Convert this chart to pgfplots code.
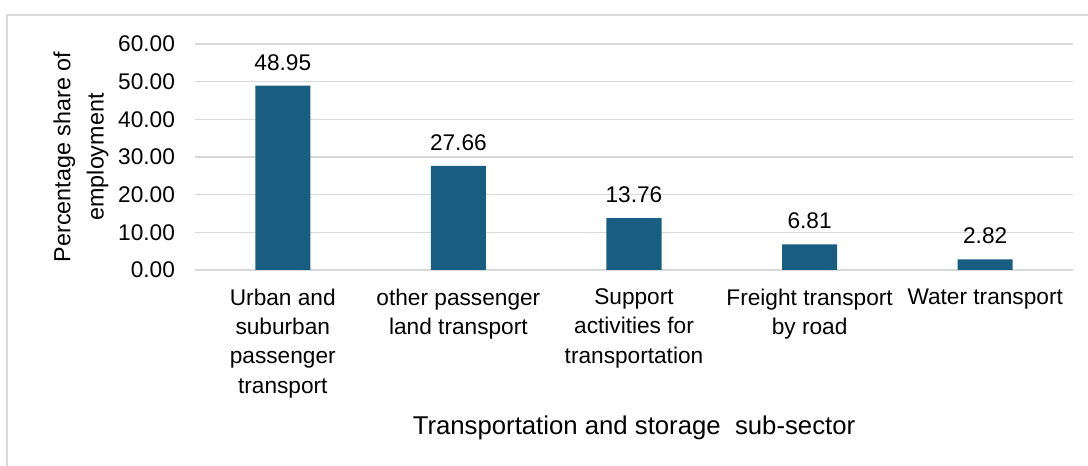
\documentclass[border=0pt]{standalone}
\usepackage{fontspec}
\setmainfont{Liberation Sans}
\usepackage{pgfplots}
\pgfplotsset{compat=1.18}

\definecolor{barblue}{RGB}{25,94,128}
\definecolor{gridgray}{RGB}{217,217,217}

\begin{document}
\begin{tikzpicture}
% picture frame: 1088x466 px at 0.75pt/px, plot area lower-left at (0,0)
\useasboundingbox (-146.25pt,-147pt) rectangle (669.75pt,202.5pt);
\draw[gridgray, line width=1.2pt] (-141pt,-160pt) -- (-141pt,191.25pt) -- (680pt,191.25pt);
\begin{axis}[
  at={(0,0)}, anchor=south west,
  width=658.5pt, height=169.5pt, scale only axis,
  ybar, bar width=41.25pt,
  xmin=-0.5, xmax=4.5, ymin=0, ymax=60,
  xtick=data,
  xticklabels={
    {Urban and\\suburban\\passenger\\transport},
    {other passenger\\land transport},
    {Support\\activities for\\transportation},
    {Freight transport\\by road},
    {Water transport}},
  ytick={0,10,...,60},
  major tick length=0pt,
  axis line style={draw=none},
  ymajorgrids, grid style={gridgray, line width=0.9pt},
  /pgf/number format/.cd, fixed, fixed zerofill, precision=2, assume math mode=true,
  /pgfplots/.cd,
  tick label style={font=\fontsize{17}{22}\selectfont},
  xticklabel style={align=center, anchor=north, yshift=-10.5pt},
  yticklabel style={xshift=-11.5pt},
  xlabel={Transportation and storage\ \ sub-sector},
  ylabel={Percentage share of\\employment},
  xlabel style={font=\fontsize{19.3}{22}\selectfont,
    at={(axis description cs:0.5,-0.699)}, anchor=center},
  ylabel style={font=\fontsize{17.5}{25}\selectfont,
    at={(axis description cs:-0.1298,0.5)}, anchor=center, align=center},
  nodes near coords,
  nodes near coords style={font=\fontsize{17}{20}\selectfont, yshift=8pt, text=black},
]
  \addplot[fill=barblue, draw=none] coordinates {
    (0,48.95) (1,27.66) (2,13.76) (3,6.81) (4,2.82)
  };
\end{axis}
\end{tikzpicture}
\end{document}
